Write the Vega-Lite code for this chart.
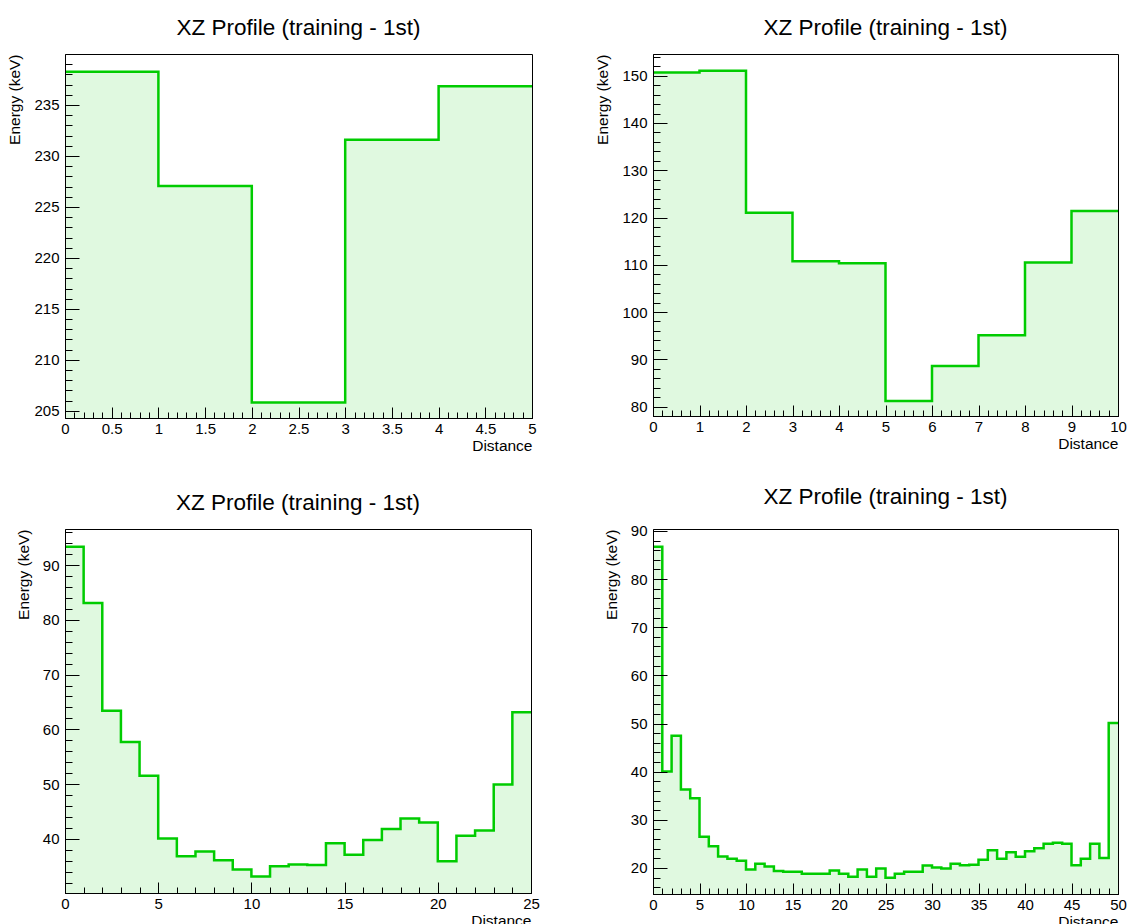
{
  "$schema": "https://vega.github.io/schema/vega-lite/v6.json",
  "background": "white",
  "padding": {"left": 7, "top": 16, "right": 5, "bottom": 5},
  "config": {
    "font": "Liberation Sans",
    "view": {"stroke": "black", "strokeWidth": 1},
    "title": {"font": "Liberation Sans", "fontSize": 22.5, "fontWeight": "normal", "color": "black", "anchor": "middle", "offset": 15},
    "axis": {
      "grid": false, "domain": false,
      "labelFont": "Liberation Sans", "labelFontSize": 15, "labelColor": "black",
      "labelFlush": false, "labelOverlap": false,
      "tickColor": "black", "tickWidth": 1,
      "titleFont": "Liberation Sans", "titleFontSize": 15.5, "titleFontWeight": "normal", "titleColor": "black",
      "titleAnchor": "end"
    },
    "line": {"color": "#00cc00", "strokeWidth": 2.5},
    "area": {"color": "#e0f9e0"}
  },
  "spacing": 55,
  "hconcat": [
    {
      "spacing": 37,
      "vconcat": [
        {
          "width": 467, "height": 364,
          "title": "XZ Profile (training - 1st)",
          "data": {"values": [
            {"lo": 0, "hi": 1, "e": 238.25}, {"lo": 1, "hi": 2, "e": 227.05}, {"lo": 2, "hi": 3, "e": 205.82},
            {"lo": 3, "hi": 4, "e": 231.6}, {"lo": 4, "hi": 5, "e": 236.83}
          ]},
          "transform": [{"fold": ["lo", "hi"], "as": ["edge", "x"]}],
          "resolve": {"axis": {"x": "independent", "y": "independent"}},
          "layer": [
            {
              "mark": {"type": "area", "clip": true},
              "encoding": {
                "x": {"field": "x", "type": "quantitative", "scale": {"domain": [0, 5], "nice": false, "zero": false},
                  "axis": {"orient": "bottom", "title": null, "labels": false, "tickSize": -6, "zindex": 1,
                    "values": [0,0.1,0.2,0.3,0.4,0.5,0.6,0.7,0.8,0.9,1,1.1,1.2,1.3,1.4,1.5,1.6,1.7,1.8,1.9,2,2.1,2.2,2.3,2.4,2.5,2.6,2.7,2.8,2.9,3,3.1,3.2,3.3,3.4,3.5,3.6,3.7,3.8,3.9,4,4.1,4.2,4.3,4.4,4.5,4.6,4.7,4.8,4.9,5]}},
                "y": {"field": "e", "type": "quantitative", "stack": null, "scale": {"domain": [204.3, 240.0], "nice": false, "zero": false},
                  "axis": {"orient": "left", "title": null, "labels": false, "tickSize": -7, "zindex": 1,
                    "values": [205,206,207,208,209,210,211,212,213,214,215,216,217,218,219,220,221,222,223,224,225,226,227,228,229,230,231,232,233,234,235,236,237,238,239]}}
              }
            },
            {
              "mark": {"type": "line"},
              "encoding": {
                "x": {"field": "x", "type": "quantitative", "title": "Distance",
                  "axis": {"orient": "bottom", "tickSize": -11, "labelPadding": 14, "titlePadding": 2, "zindex": 1,
                    "domain": true, "domainColor": "black", "labelExpr": "datum.value + ''",
                    "values": [0,0.5,1,1.5,2,2.5,3,3.5,4,4.5,5]}},
                "y": {"field": "e", "type": "quantitative", "title": "Energy (keV)",
                  "axis": {"orient": "left", "tickSize": -14, "labelPadding": 20, "titlePadding": 11, "zindex": 1,
                    "domain": true, "domainColor": "black", "labelExpr": "datum.value + ''",
                    "values": [205,210,215,220,225,230,235]}},
                "order": [{"field": "lo", "type": "quantitative"}, {"field": "x", "type": "quantitative"}]
              }
            }
          ]
        },
        {
          "width": 466, "height": 364,
          "title": "XZ Profile (training - 1st)",
          "data": {"values": [
            {"lo": 0, "hi": 1, "e": 93.35}, {"lo": 1, "hi": 2, "e": 83.1}, {"lo": 2, "hi": 3, "e": 63.4},
            {"lo": 3, "hi": 4, "e": 57.7}, {"lo": 4, "hi": 5, "e": 51.5}, {"lo": 5, "hi": 6, "e": 40.06},
            {"lo": 6, "hi": 7, "e": 36.8}, {"lo": 7, "hi": 8, "e": 37.7}, {"lo": 8, "hi": 9, "e": 36.1},
            {"lo": 9, "hi": 10, "e": 34.4}, {"lo": 10, "hi": 11, "e": 33.1}, {"lo": 11, "hi": 12, "e": 35.0},
            {"lo": 12, "hi": 13, "e": 35.3}, {"lo": 13, "hi": 14, "e": 35.2}, {"lo": 14, "hi": 15, "e": 39.2},
            {"lo": 15, "hi": 16, "e": 37.1}, {"lo": 16, "hi": 17, "e": 39.8}, {"lo": 17, "hi": 18, "e": 41.8},
            {"lo": 18, "hi": 19, "e": 43.7}, {"lo": 19, "hi": 20, "e": 43.0}, {"lo": 20, "hi": 21, "e": 35.9},
            {"lo": 21, "hi": 22, "e": 40.55}, {"lo": 22, "hi": 23, "e": 41.5}, {"lo": 23, "hi": 24, "e": 49.9},
            {"lo": 24, "hi": 25, "e": 63.1}
          ]},
          "transform": [{"fold": ["lo", "hi"], "as": ["edge", "x"]}],
          "resolve": {"axis": {"x": "independent", "y": "independent"}},
          "layer": [
            {
              "mark": {"type": "area", "clip": true},
              "encoding": {
                "x": {"field": "x", "type": "quantitative", "scale": {"domain": [0, 25], "nice": false, "zero": false},
                  "axis": {"orient": "bottom", "title": null, "labels": false, "tickSize": -6, "zindex": 1,
                    "values": [0,1,2,3,4,5,6,7,8,9,10,11,12,13,14,15,16,17,18,19,20,21,22,23,24,25]}},
                "y": {"field": "e", "type": "quantitative", "stack": null, "scale": {"domain": [30.1, 96.6], "nice": false, "zero": false},
                  "axis": {"orient": "left", "title": null, "labels": false, "tickSize": -7, "zindex": 1,
                    "values": [32,34,36,38,40,42,44,46,48,50,52,54,56,58,60,62,64,66,68,70,72,74,76,78,80,82,84,86,88,90,92,94,96]}}
              }
            },
            {
              "mark": {"type": "line"},
              "encoding": {
                "x": {"field": "x", "type": "quantitative", "title": "Distance",
                  "axis": {"orient": "bottom", "tickSize": -11, "labelPadding": 14, "titlePadding": 2, "zindex": 1,
                    "domain": true, "domainColor": "black", "labelExpr": "datum.value + ''",
                    "values": [0,5,10,15,20,25]}},
                "y": {"field": "e", "type": "quantitative", "title": "Energy (keV)",
                  "axis": {"orient": "left", "tickSize": -14, "labelPadding": 20, "titlePadding": 11, "zindex": 1,
                    "domain": true, "domainColor": "black", "labelExpr": "datum.value + ''",
                    "values": [40,50,60,70,80,90]}},
                "order": [{"field": "lo", "type": "quantitative"}, {"field": "x", "type": "quantitative"}]
              }
            }
          ]
        }
      ]
    },
    {
      "spacing": 33,
      "vconcat": [
        {
          "width": 465, "height": 362,
          "title": "XZ Profile (training - 1st)",
          "data": {"values": [
            {"lo": 0, "hi": 1, "e": 150.7}, {"lo": 1, "hi": 2, "e": 151.05}, {"lo": 2, "hi": 3, "e": 121.0},
            {"lo": 3, "hi": 4, "e": 110.75}, {"lo": 4, "hi": 5, "e": 110.3}, {"lo": 5, "hi": 6, "e": 81.2},
            {"lo": 6, "hi": 7, "e": 88.6}, {"lo": 7, "hi": 8, "e": 95.1}, {"lo": 8, "hi": 9, "e": 110.5},
            {"lo": 9, "hi": 10, "e": 121.4}
          ]},
          "transform": [{"fold": ["lo", "hi"], "as": ["edge", "x"]}],
          "resolve": {"axis": {"x": "independent", "y": "independent"}},
          "layer": [
            {
              "mark": {"type": "area", "clip": true},
              "encoding": {
                "x": {"field": "x", "type": "quantitative", "scale": {"domain": [0, 10], "nice": false, "zero": false},
                  "axis": {"orient": "bottom", "title": null, "labels": false, "tickSize": -6, "zindex": 1,
                    "values": [0,0.2,0.4,0.6,0.8,1,1.2,1.4,1.6,1.8,2,2.2,2.4,2.6,2.8,3,3.2,3.4,3.6,3.8,4,4.2,4.4,4.6,4.8,5,5.2,5.4,5.6,5.8,6,6.2,6.4,6.6,6.8,7,7.2,7.4,7.6,7.8,8,8.2,8.4,8.6,8.8,9,9.2,9.4,9.6,9.8,10]}},
                "y": {"field": "e", "type": "quantitative", "stack": null, "scale": {"domain": [78.0, 154.6], "nice": false, "zero": false},
                  "axis": {"orient": "left", "title": null, "labels": false, "tickSize": -7, "zindex": 1,
                    "values": [78,80,82,84,86,88,90,92,94,96,98,100,102,104,106,108,110,112,114,116,118,120,122,124,126,128,130,132,134,136,138,140,142,144,146,148,150,152,154]}}
              }
            },
            {
              "mark": {"type": "line"},
              "encoding": {
                "x": {"field": "x", "type": "quantitative", "title": "Distance",
                  "axis": {"orient": "bottom", "tickSize": -11, "labelPadding": 14, "titlePadding": 2, "zindex": 1,
                    "domain": true, "domainColor": "black", "labelExpr": "datum.value + ''",
                    "values": [0,1,2,3,4,5,6,7,8,9,10]}},
                "y": {"field": "e", "type": "quantitative", "title": "Energy (keV)",
                  "axis": {"orient": "left", "tickSize": -14, "labelPadding": 20, "titlePadding": 11, "zindex": 1,
                    "domain": true, "domainColor": "black", "labelExpr": "datum.value + ''",
                    "values": [80,90,100,110,120,130,140,150]}},
                "order": [{"field": "lo", "type": "quantitative"}, {"field": "x", "type": "quantitative"}]
              }
            }
          ]
        },
        {
          "width": 465, "height": 365,
          "title": "XZ Profile (training - 1st)",
          "data": {"values": [
            {"lo": 0, "hi": 1, "e": 86.7}, {"lo": 1, "hi": 2, "e": 40.06}, {"lo": 2, "hi": 3, "e": 47.46},
            {"lo": 3, "hi": 4, "e": 36.3}, {"lo": 4, "hi": 5, "e": 34.5}, {"lo": 5, "hi": 6, "e": 26.5},
            {"lo": 6, "hi": 7, "e": 24.5}, {"lo": 7, "hi": 8, "e": 22.4}, {"lo": 8, "hi": 9, "e": 21.9},
            {"lo": 9, "hi": 10, "e": 21.5}, {"lo": 10, "hi": 11, "e": 19.7}, {"lo": 11, "hi": 12, "e": 20.9},
            {"lo": 12, "hi": 13, "e": 20.3}, {"lo": 13, "hi": 14, "e": 19.4}, {"lo": 14, "hi": 15, "e": 19.2},
            {"lo": 15, "hi": 16, "e": 19.2}, {"lo": 16, "hi": 17, "e": 18.8}, {"lo": 17, "hi": 18, "e": 18.8},
            {"lo": 18, "hi": 19, "e": 18.8}, {"lo": 19, "hi": 20, "e": 19.5}, {"lo": 20, "hi": 21, "e": 18.8},
            {"lo": 21, "hi": 22, "e": 18.2}, {"lo": 22, "hi": 23, "e": 19.7}, {"lo": 23, "hi": 24, "e": 18.2},
            {"lo": 24, "hi": 25, "e": 19.9}, {"lo": 25, "hi": 26, "e": 18.0}, {"lo": 26, "hi": 27, "e": 18.8},
            {"lo": 27, "hi": 28, "e": 19.2}, {"lo": 28, "hi": 29, "e": 19.2}, {"lo": 29, "hi": 30, "e": 20.5},
            {"lo": 30, "hi": 31, "e": 20.1}, {"lo": 31, "hi": 32, "e": 19.9}, {"lo": 32, "hi": 33, "e": 20.9},
            {"lo": 33, "hi": 34, "e": 20.55}, {"lo": 34, "hi": 35, "e": 20.7}, {"lo": 35, "hi": 36, "e": 21.7},
            {"lo": 36, "hi": 37, "e": 23.7}, {"lo": 37, "hi": 38, "e": 21.9}, {"lo": 38, "hi": 39, "e": 23.25},
            {"lo": 39, "hi": 40, "e": 22.35}, {"lo": 40, "hi": 41, "e": 23.5}, {"lo": 41, "hi": 42, "e": 24.1},
            {"lo": 42, "hi": 43, "e": 25.05}, {"lo": 43, "hi": 44, "e": 25.25}, {"lo": 44, "hi": 45, "e": 25.05},
            {"lo": 45, "hi": 46, "e": 20.55}, {"lo": 46, "hi": 47, "e": 21.9}, {"lo": 47, "hi": 48, "e": 25.05},
            {"lo": 48, "hi": 49, "e": 22.1}, {"lo": 49, "hi": 50, "e": 50.1}
          ]},
          "transform": [{"fold": ["lo", "hi"], "as": ["edge", "x"]}],
          "resolve": {"axis": {"x": "independent", "y": "independent"}},
          "layer": [
            {
              "mark": {"type": "area", "clip": true},
              "encoding": {
                "x": {"field": "x", "type": "quantitative", "scale": {"domain": [0, 50], "nice": false, "zero": false},
                  "axis": {"orient": "bottom", "title": null, "labels": false, "tickSize": -6, "zindex": 1,
                    "values": [0,1,2,3,4,5,6,7,8,9,10,11,12,13,14,15,16,17,18,19,20,21,22,23,24,25,26,27,28,29,30,31,32,33,34,35,36,37,38,39,40,41,42,43,44,45,46,47,48,49,50]}},
                "y": {"field": "e", "type": "quantitative", "stack": null, "scale": {"domain": [14.6, 90.4], "nice": false, "zero": false},
                  "axis": {"orient": "left", "title": null, "labels": false, "tickSize": -7, "zindex": 1,
                    "values": [16,18,20,22,24,26,28,30,32,34,36,38,40,42,44,46,48,50,52,54,56,58,60,62,64,66,68,70,72,74,76,78,80,82,84,86,88,90]}}
              }
            },
            {
              "mark": {"type": "line"},
              "encoding": {
                "x": {"field": "x", "type": "quantitative", "title": "Distance",
                  "axis": {"orient": "bottom", "tickSize": -11, "labelPadding": 14, "titlePadding": 2, "zindex": 1,
                    "domain": true, "domainColor": "black", "labelExpr": "datum.value + ''",
                    "values": [0,5,10,15,20,25,30,35,40,45,50]}},
                "y": {"field": "e", "type": "quantitative", "title": "Energy (keV)",
                  "axis": {"orient": "left", "tickSize": -14, "labelPadding": 20, "titlePadding": 11, "zindex": 1,
                    "domain": true, "domainColor": "black", "labelExpr": "datum.value + ''",
                    "values": [20,30,40,50,60,70,80,90]}},
                "order": [{"field": "lo", "type": "quantitative"}, {"field": "x", "type": "quantitative"}]
              }
            }
          ]
        }
      ]
    }
  ]
}
